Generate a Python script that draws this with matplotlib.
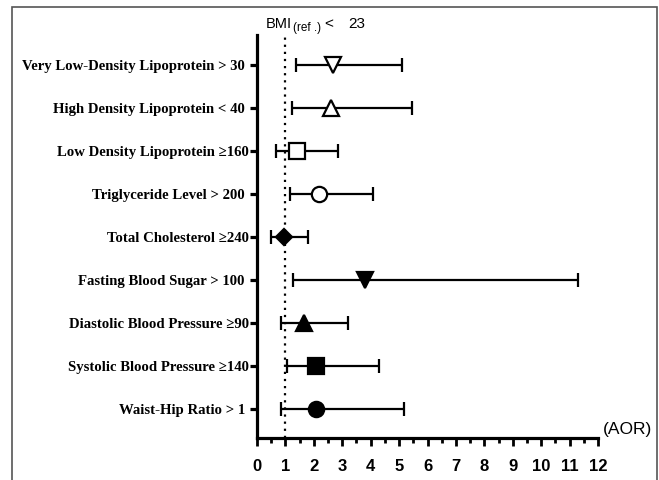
import matplotlib
matplotlib.use("Agg")
import matplotlib.pyplot as plt
import numpy as np
from matplotlib.patches import Rectangle

# rows from top to bottom
labels = [
    "Very Low-Density Lipoprotein > 30 ",
    "High Density Lipoprotein < 40 ",
    "Low Density Lipoprotein \u2265160",
    "Triglyceride Level > 200 ",
    "Total Cholesterol \u2265240",
    "Fasting Blood Sugar > 100 ",
    "Diastolic Blood Pressure \u226590",
    "Systolic Blood Pressure \u2265140",
    "Waist-Hip Ratio > 1 ",
]
aor = [2.66, 2.60, 1.41, 2.17, 0.96, 3.81, 1.66, 2.09, 2.07]
ci_low = [1.36, 1.23, 0.68, 1.15, 0.51, 1.27, 0.86, 1.04, 0.84]
ci_high = [5.11, 5.44, 2.86, 4.07, 1.78, 11.29, 3.20, 4.29, 5.16]
markers = ["v", "^", "s", "o", "D", "v", "^", "s", "o"]
filled = [False, False, False, False, True, True, True, True, True]
ref_value = 1

serif = ["Liberation Serif", "DejaVu Serif"]
narrow = ["Liberation Sans Narrow", "Liberation Sans", "DejaVu Sans"]

fig = plt.figure(figsize=(6.59, 4.8), dpi=100)
ax = fig.add_axes([257 / 659, 1 - 438 / 480, (598 - 257) / 659, (438 - 35) / 480])

n = len(labels)
ypos = np.arange(n)[::-1]

ax.axvline(ref_value, color="black", linestyle=(0, (1, 2.2)), linewidth=1.6, zorder=1)

for i in range(n):
    lo = aor[i] - ci_low[i]
    hi = ci_high[i] - aor[i]
    ax.errorbar(aor[i], ypos[i], xerr=[[lo], [hi]], fmt="none", ecolor="black",
                elinewidth=1.6, capsize=5, capthick=1.6, zorder=2)
    ms = 8 if markers[i] == "D" else 11
    ax.plot(aor[i], ypos[i], marker=markers[i], markersize=ms,
            markerfacecolor="black" if filled[i] else "white",
            markeredgecolor="black", markeredgewidth=1.6, linestyle="none", zorder=3)

ax.set_xlim(0, 12)
ax.set_ylim(-0.67, n - 1 + 0.7)
ax.set_xticks(np.arange(0, 13, 1))
ax.set_xticks(np.arange(0, 12.5, 0.5), minor=True)
ax.set_yticks(ypos)
ax.set_yticklabels(labels, family=serif, fontweight="bold", fontsize=10.6)
for t in ax.get_xticklabels():
    t.set_family(narrow)
    t.set_fontweight("bold")
    t.set_fontsize(12)

for s in ["top", "right"]:
    ax.spines[s].set_visible(False)
for s in ["left", "bottom"]:
    ax.spines[s].set_linewidth(2.3)

ax.tick_params(axis="x", which="major", length=6, width=2, pad=9, direction="out")
ax.tick_params(axis="x", which="minor", length=3.5, width=2, direction="out")
ax.tick_params(axis="y", which="major", length=5, width=2.3, pad=1)

fig.text(603 / 659, 1 - 434 / 480, "(AOR)", family=narrow, fontsize=12.5, va="baseline")
fig.text(266 / 659, 1 - 28 / 480, "BMI", family=narrow, fontsize=10.5, va="baseline")
fig.text(293 / 659, 1 - 31 / 480, "(ref .)", family=narrow, fontsize=8.5, va="baseline")
fig.text(324 / 659, 1 - 28 / 480, "<", family=narrow, fontsize=11, va="baseline")
fig.text(348 / 659, 1 - 28 / 480, "23", family=narrow, fontsize=11, va="baseline")

fig.patches.append(Rectangle((12 / 659, -0.05), (657 - 12) / 659, 1.05 - 7 / 480,
                             transform=fig.transFigure, fill=False,
                             edgecolor="#555555", linewidth=1.2))

fig.savefig("out.png", dpi=100)
